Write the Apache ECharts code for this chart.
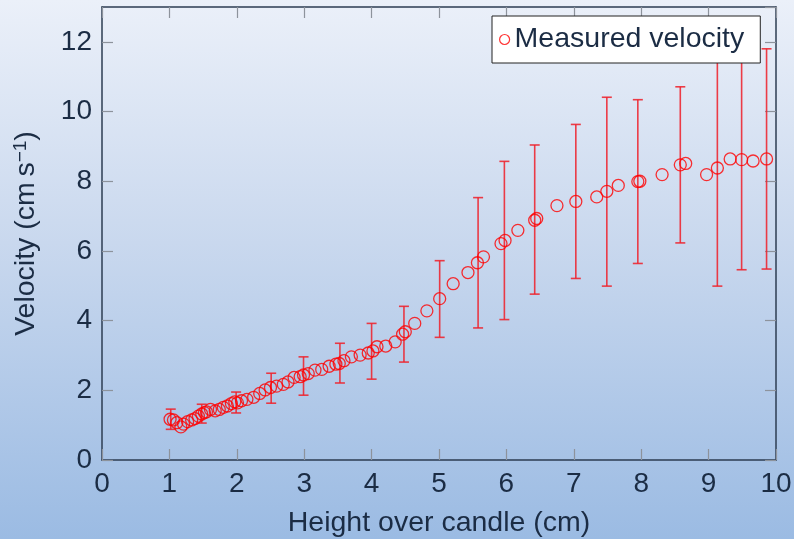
<!DOCTYPE html>
<html>
<head>
<meta charset="utf-8">
<script src="https://cdn.jsdelivr.net/npm/echarts@6/dist/echarts.min.js"></script>
<style>
html,body{margin:0;padding:0;}
#c{width:794px;height:539px;background:linear-gradient(to bottom,#ebf0f9 0%,#c9d8ee 45%,#9bbbe3 100%);}
</style>
</head>
<body>
<div id="c"></div>
<script>
const xVals = [1.01,1.06,1.11,1.17,1.21,1.27,1.33,1.38,1.43,1.48,1.52,1.55,1.61,1.68,1.74,1.80,1.86,1.92,1.97,2.01,2.07,2.15,
  2.25,2.34,2.42,2.50,2.59,2.69,2.76,2.85,2.94,2.99,3.06,3.16,3.26,3.37,3.47,3.52,3.59,3.70,3.83,3.95,4.02,4.08,4.21,4.35,4.46,4.50,4.64,4.82,5.01,
  5.21,5.43,5.57,5.66,5.92,5.98,6.17,6.42,6.45,6.75,7.03,7.34,7.49,7.66,7.95,7.98,8.31,8.58,8.66,8.97,9.13,9.32,9.49,9.66,9.86];
const yVals = [1.17,1.15,1.07,0.95,1.03,1.10,1.15,1.19,1.26,1.32,1.36,1.38,1.45,1.41,1.45,1.51,1.55,1.62,1.67,1.64,1.70,1.74,
  1.80,1.91,2.01,2.08,2.12,2.17,2.24,2.37,2.39,2.44,2.48,2.58,2.60,2.69,2.75,2.77,2.85,2.96,3.01,3.07,3.13,3.25,3.27,3.39,3.61,3.68,3.92,4.28,4.63,
  5.06,5.38,5.66,5.83,6.21,6.30,6.59,6.88,6.93,7.30,7.42,7.55,7.71,7.88,7.99,8.00,8.19,8.47,8.51,8.19,8.38,8.64,8.62,8.58,8.64];
const errX = [1.02,1.48,1.99,2.51,2.99,3.53,4.00,4.48,5.01,5.58,5.97,6.42,7.03,7.49,7.95,8.58,9.13,9.49,9.86];
const errY = [1.17,1.33,1.65,2.06,2.41,2.78,3.12,3.61,4.62,5.66,6.30,6.90,7.42,7.70,7.99,8.47,8.38,8.62,8.64];
const errD = [0.29,0.27,0.30,0.43,0.55,0.57,0.80,0.80,1.10,1.87,2.27,2.14,2.21,2.71,2.35,2.24,3.39,3.16,3.16];
const xTicks = [0,1,2,3,4,5,6,7,8,9,10];
const yTicks = [0,2,4,6,8,10,12];

const FONT = 'Liberation Sans';
const TXT = '#1b2c44';
const AX = '#2c3c52';
const TICK = '#8d939c';

const chart = echarts.init(document.getElementById('c'), null, {renderer:'canvas'});
const pts = xVals.map((x,i)=>[x,yVals[i]]);
const errs = errX.map((x,i)=>[x,errY[i],errD[i]]);

const baseX = {
  type:'value', min:xTicks[0], max:xTicks[xTicks.length-1], interval:1,
  axisLine:{show:true,onZero:false,lineStyle:{color:AX,width:1.5}},
  axisTick:{show:true,inside:true,length:11,lineStyle:{color:TICK,width:1.2}},
  splitLine:{show:false}
};
const baseY = {
  type:'value', min:yTicks[0], max:13, interval:2,
  axisLine:{show:true,onZero:false,lineStyle:{color:AX,width:1.5}},
  axisTick:{show:true,inside:true,length:11,lineStyle:{color:TICK,width:1.2}},
  splitLine:{show:false}
};

chart.setOption({
  backgroundColor:'transparent',
  animation:false,
  textStyle:{fontFamily:FONT},
  grid:{left:102,top:7,right:18,bottom:79,containLabel:false,outerBoundsMode:'none'},
  legend:{
    show:true, left:492, top:16,
    backgroundColor:'#ffffff', borderColor:'#222222', borderWidth:1, borderRadius:0,
    padding:[9,16,9,7],
    itemWidth:10, itemHeight:10,
    data:[{name:'Measured velocity', icon:'circle', itemStyle:{color:'#ffffff',borderColor:'#ff0000',borderWidth:1.2}}],
    textStyle:{fontFamily:FONT,fontSize:28.5,color:TXT,lineHeight:29}
  },
  xAxis:[
    Object.assign({}, baseX, {
      position:'bottom',
      name:'Height over candle (cm)', nameLocation:'middle', nameGap:49,
      nameTextStyle:{fontFamily:FONT,fontSize:28.5,color:TXT},
      axisLabel:{show:true,margin:10,fontFamily:FONT,fontSize:28,color:TXT,
        formatter:v=>xTicks.indexOf(v)>=0?String(v):''}
    }),
    Object.assign({}, baseX, {position:'top', axisLabel:{show:false}})
  ],
  yAxis:[
    Object.assign({}, baseY, {
      position:'left',
      name:'Velocity (cm\u2009s{sup|\u22121})', nameLocation:'middle', nameGap:60,
      nameTextStyle:{fontFamily:FONT,fontSize:28.5,color:TXT,
        rich:{sup:{fontFamily:FONT,fontSize:19,color:TXT,verticalAlign:'top',padding:[0,0,12,0]}}},
      axisLabel:{show:true,margin:10,fontFamily:FONT,fontSize:28,color:TXT,showMaxLabel:false,
        formatter:v=>yTicks.indexOf(v)>=0?String(v):''}
    }),
    Object.assign({}, baseY, {position:'right', axisLabel:{show:false}})
  ],
  series:[
    {
      type:'custom', name:'err', xAxisIndex:0, yAxisIndex:0,
      data:errs, z:2, silent:true,
      renderItem:(params, api)=>{
        const x = api.value(0), y = api.value(1), d = api.value(2);
        const t = api.coord([x, y+d]);
        const b = api.coord([x, y-d]);
        const w = 5;
        const st = {stroke:'rgba(238,35,45,0.88)', lineWidth:1.6};
        return {type:'group', children:[
          {type:'line', shape:{x1:t[0],y1:t[1],x2:b[0],y2:b[1]}, style:st},
          {type:'line', shape:{x1:t[0]-w,y1:t[1],x2:t[0]+w,y2:t[1]}, style:st},
          {type:'line', shape:{x1:b[0]-w,y1:b[1],x2:b[0]+w,y2:b[1]}, style:st}
        ]};
      }
    },
    {
      type:'scatter', name:'Measured velocity', xAxisIndex:0, yAxisIndex:0,
      data:pts, symbol:'circle', symbolSize:12, z:3,
      itemStyle:{color:'rgba(255,255,255,0)', borderColor:'#ff0000', borderWidth:1.3}
    }
  ]
});
</script>
</body>
</html>
